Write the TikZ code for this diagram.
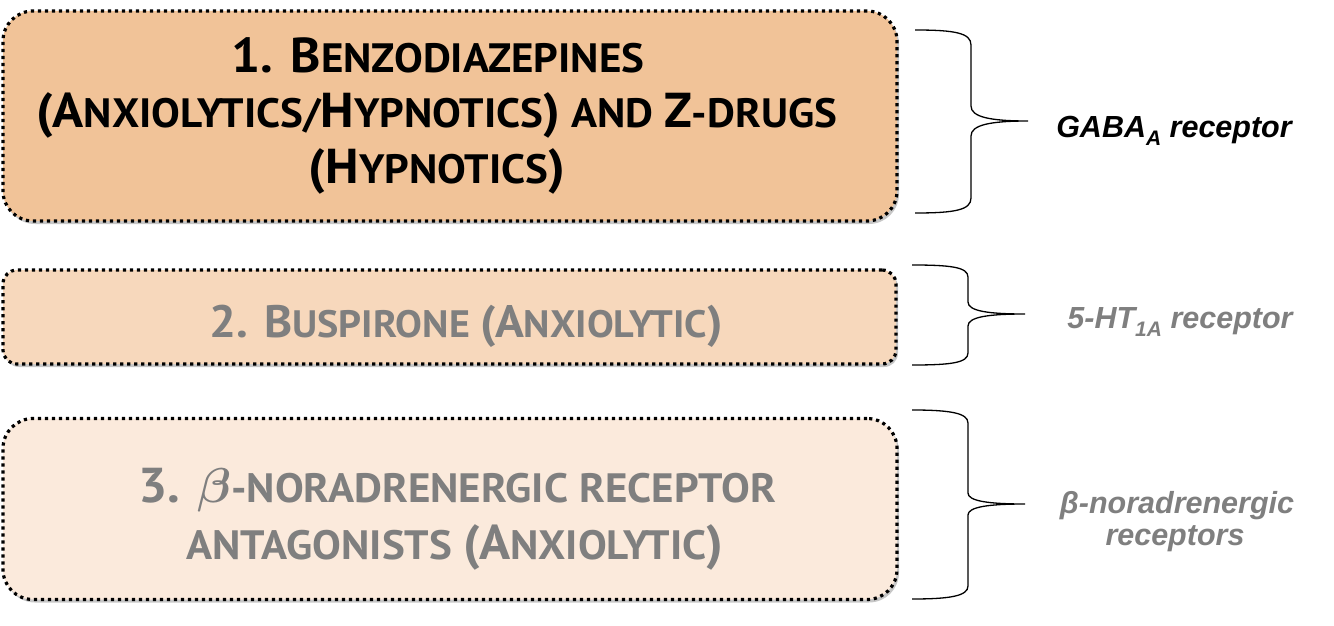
\RequirePackage{fix-cm}
\documentclass[tikz,border=0pt]{standalone}
\usepackage{fontspec}
\setmainfont{PT Sans}[FakeStretch=1.05]
\newfontfamily\helv{Liberation Sans}
\usetikzlibrary{shadows}
\definecolor{boxA}{HTML}{F1C398}
\definecolor{boxB}{HTML}{F7D8BC}
\definecolor{boxC}{HTML}{FBEADC}
\definecolor{txtgray}{HTML}{7F7F7F}
\newcommand\BG{\fontsize{49}{55}\selectfont}
\newcommand\BGb{\fontsize{45.4}{55}\selectfont}
\newcommand\lowsub[1]{\raisebox{-0.28em}{\fontsize{21}{21}\selectfont #1}}
\tikzset{
  drugbox/.style={draw=black, line width=3.2pt, dash pattern=on 3.2pt off 3.8pt,
    rounded corners=#1, inner sep=0pt,
    drop shadow={shadow xshift=2pt, shadow yshift=-3pt, opacity=0.22, fill=black}},
  drugtext/.style={anchor=base, font=\bfseries\fontsize{41}{55}\selectfont, inner sep=0pt},
  drugtextb/.style={anchor=base, font=\bfseries\fontsize{38.2}{55}\selectfont, inner sep=0pt},
  lbl/.style={anchor=base, font=\helv\bfseries\itshape\fontsize{30.5}{33}\selectfont, inner sep=0pt},
  brace/.style={draw=black, line width=1.3pt}
}
\begin{document}
\begin{tikzpicture}[x=1pt,y=-1pt]
\useasboundingbox (0,0) rectangle (1334,626);
% boxes
\node[drugbox=30pt, fill=boxA, minimum width=894pt, minimum height=210pt] (b1) at (450,116) {};
\node[drugbox=14pt, fill=boxB, minimum width=893pt, minimum height=94pt] (b2) at (449.5,317) {};
\node[drugbox=30pt, fill=boxC, minimum width=894pt, minimum height=181pt] (b3) at (450,509) {};
% box texts
\node[drugtext, text=black] (t1a) at (438,73) {{\BG 1. B}ENZODIAZEPINES};
\node[drugtext, text=black] (t1b) at (437,128) {{\BG (A}NXIOLYTICS/{\BG H}YPNOTICS{\BG )} AND {\BG Z}-DRUGS};
\node[drugtext, text=black] (t1c) at (437,183) {{\BG (H}YPNOTICS{\BG )}};
\node[drugtextb, text=txtgray] (t2) at (466,337) {{\BGb 2. B}USPIRONE {\BGb (A}NXIOLYTIC{\BGb )}};
\node[drugtext, text=txtgray] (t3a) at (457,502) {{\BG 3. {\boldmath$\beta$}}-NORADRENERGIC RECEPTOR};
\node[drugtext, text=txtgray] (t3b) at (455,559) {ANTAGONISTS {\BG (A}NXIOLYTIC{\BG )}};
% braces
\draw[brace] (915,30) .. controls (955,30) and (971,33) .. (971,45) -- (971,106)
  .. controls (971,117) and (990,121) .. (1028,121)
  .. controls (990,121) and (971,125) .. (971,136) -- (971,198)
  .. controls (971,210) and (955,213) .. (915,213);
\draw[brace] (912,265) .. controls (950,265) and (968,267) .. (968,277) -- (968,302)
  .. controls (968,311) and (988,314) .. (1025,314)
  .. controls (988,314) and (968,317) .. (968,326) -- (968,353)
  .. controls (968,363) and (950,365) .. (912,365);
\draw[brace] (912,410) .. controls (950,410) and (968,413) .. (968,423) -- (968,493)
  .. controls (968,501) and (988,504) .. (1025,504)
  .. controls (988,504) and (968,507) .. (968,515) -- (968,586)
  .. controls (968,596) and (950,599) .. (912,599);
% labels
\node[lbl, text=black] (l1) at (1174,137) {GABA\lowsub{A} receptor};
\node[lbl, text=txtgray] (l2) at (1180,328) {5-HT\lowsub{1A} receptor};
\node[lbl, text=txtgray] (l3a) at (1177,513) {β-noradrenergic};
\node[lbl, text=txtgray] (l3b) at (1175,545) {receptors};
\end{tikzpicture}
\end{document}
